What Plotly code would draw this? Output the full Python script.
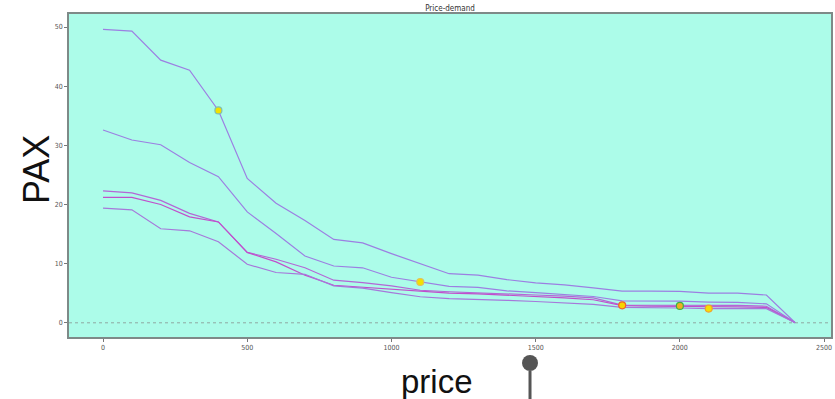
import plotly.graph_objects as go

prices = [0, 100, 200, 300, 400, 500, 600, 700, 800, 900, 1000, 1100, 1200,
          1300, 1400, 1500, 1600, 1700, 1800, 1900, 2000, 2100, 2200, 2300, 2400]

pax_1 = [49.6, 49.3, 44.4, 42.7, 35.9, 24.4, 20.2, 17.3, 14.1, 13.5, 11.7, 10.0, 8.3,
         8.05, 7.3, 6.75, 6.4, 5.9, 5.35, 5.35, 5.3, 5.0, 5.0, 4.7, 0.0]
pax_2 = [32.6, 30.9, 30.1, 27.1, 24.7, 18.75, 15.1, 11.3, 9.6, 9.3, 7.7, 6.9, 6.15,
         6.0, 5.4, 5.1, 4.8, 4.45, 3.7, 3.7, 3.65, 3.5, 3.45, 3.2, 0.0]
pax_3 = [22.3, 21.95, 20.7, 18.5, 17.05, 11.9, 10.75, 9.3, 7.2, 6.8, 6.25, 5.5, 5.25,
         5.1, 4.9, 4.7, 4.5, 4.2, 3.0, 3.0, 3.0, 2.95, 2.95, 2.8, 0.0]
pax_4 = [21.2, 21.2, 20.0, 17.9, 17.05, 11.9, 10.3, 8.05, 6.35, 6.0, 5.65, 5.25, 5.0,
         4.9, 4.7, 4.4, 4.2, 3.9, 2.9, 2.8, 2.8, 2.7, 2.7, 2.6, 0.0]
pax_5 = [19.4, 19.1, 15.9, 15.55, 13.7, 9.9, 8.5, 8.2, 6.25, 5.85, 5.1, 4.4, 4.1,
         4.0, 3.8, 3.6, 3.4, 3.1, 2.6, 2.6, 2.5, 2.4, 2.4, 2.4, 0.0]

series = [pax_1, pax_2, pax_3, pax_4, pax_5]
line_colors = ["#9C7FE2", "#9C7FE2", "#B466D6", "#C14FCB", "#A678DA"]

marker_price = [400, 1100, 1800, 2000, 2100]
marker_pax = [35.9, 6.9, 2.95, 2.85, 2.4]
marker_fill = ["#F2E000", "#F2E000", "#F7D400", "#F0B020", "#F7E000"]
marker_edge = ["#7FBFB0", "#E0C060", "#F06030", "#40B040", "#F0A030"]

x_ticks = [0, 500, 1000, 1500, 2000, 2500]
y_ticks = [0, 10, 20, 30, 40, 50]

fig = go.Figure()
for ys, c in zip(series, line_colors):
    fig.add_trace(go.Scatter(x=prices, y=ys, mode="lines",
                             line=dict(color=c, width=1.2), showlegend=False,
                             hoverinfo="skip"))

fig.add_trace(go.Scatter(x=marker_price, y=marker_pax, mode="markers",
                         marker=dict(size=7, color=marker_fill,
                                     line=dict(color=marker_edge, width=1.2)),
                         showlegend=False))

tick_font = dict(size=7, family="DejaVu Sans Condensed, DejaVu Sans", color="#555")

fig.update_layout(
    width=835, height=399,
    margin=dict(l=69, r=4, t=14, b=62, autoexpand=False),
    paper_bgcolor="white",
    plot_bgcolor="#ACFCE9",
    title=dict(text="Price-demand", x=0.5, xref="paper", y=1 - 8.5 / 399, yref="container",
               xanchor="center", yanchor="middle", automargin=False,
               font=dict(family="DejaVu Sans Condensed, DejaVu Sans", size=8, color="#333")),
    font=dict(family="DejaVu Sans", color="#444"),
    xaxis=dict(range=[-118, 2524], tickvals=x_ticks,
               ticks="outside", ticklen=3, tickcolor="#777", automargin=False,
               tickfont=tick_font, showgrid=False, zeroline=False, showline=True,
               linecolor="#7E8A88", linewidth=1.5, mirror=True),
    yaxis=dict(range=[-2.4, 52.2], tickvals=y_ticks,
               ticks="outside", ticklen=3, tickcolor="#777", automargin=False,
               tickfont=tick_font, showgrid=False, zeroline=False, showline=True,
               linecolor="#7E8A88", linewidth=1.5, mirror=True),
    annotations=[
        dict(text="price", xref="paper", yref="paper", x=0.4823, y=-0.139,
             xanchor="center", yanchor="middle", showarrow=False,
             font=dict(family="Liberation Sans, Arial", size=33, color="#111")),
        dict(text="PAX", xref="paper", yref="paper", x=-0.0433, y=0.517,
             xanchor="center", yanchor="middle", showarrow=False, textangle=-90,
             font=dict(family="Liberation Sans, Arial", size=36, color="#111")),
    ],
    shapes=[
        dict(type="line", xref="paper", x0=0, x1=1, yref="y", y0=0, y1=0,
             line=dict(color="#8FA8A2", width=1, dash="dot")),
        dict(type="line", xref="paper", yref="paper", x0=0.605, x1=0.605, y0=-0.105, y1=-0.2,
             line=dict(color="#555555", width=3)),
        dict(type="circle", xref="paper", yref="paper", x0=0.5945, x1=0.6155,
             y0=-0.1055, y1=-0.0555, fillcolor="#555555", line=dict(color="#555555", width=0)),
    ],
)

fig.write_html("out.html", config={"displayModeBar": False},
               post_script="document.body.style.margin='0';document.body.style.overflow='hidden';")
